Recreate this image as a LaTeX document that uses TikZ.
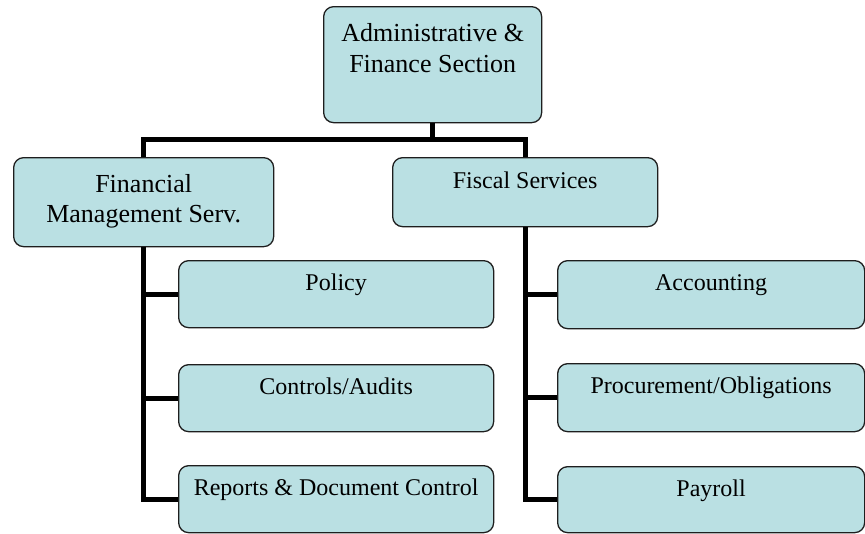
\documentclass[tikz,border=0pt]{standalone}
\usepackage{fontspec}
\setmainfont{Liberation Serif}
\definecolor{boxfill}{RGB}{186,224,227}
\definecolor{boxline}{RGB}{30,30,30}
\tikzset{
  orgbox/.style={draw=boxline, line width=1.3pt, fill=boxfill, rounded corners=10pt,
    inner sep=0pt, anchor=north west, rectangle},
  lblone/.style={font=\fontsize{24}{28}\selectfont, inner sep=0pt, anchor=base, yshift=-30pt},
  lbltwo/.style={font=\fontsize{26}{30.5}\selectfont, inner sep=0pt, align=center, anchor=north},
  conn/.style={line width=5pt, black}
}
\begin{document}
\begin{tikzpicture}[x=1pt,y=-1pt]
\useasboundingbox (0,0) rectangle (865,533);
\clip (0,0) rectangle (865,533);
% boxes
\node[orgbox, minimum width=218pt, minimum height=116pt,
  label={[lbltwo, yshift=-17.5pt]north:{Administrative \&\\Finance Section}}] (top) at (323,6) {};
\node[orgbox, minimum width=260pt, minimum height=89pt,
  label={[lbltwo, yshift=-17pt]north:{Financial\\Management Serv.}}] (fin) at (13,157) {};
\node[orgbox, minimum width=265pt, minimum height=69pt,
  label={[lblone, yshift=-1pt]north:Fiscal Services}] (fis) at (392,157) {};
\node[orgbox, minimum width=315pt, minimum height=67pt,
  label={[lblone]north:Policy}] (pol) at (178,260) {};
\node[orgbox, minimum width=315pt, minimum height=67pt,
  label={[lblone]north:Controls/Audits}] (con) at (178,364) {};
\node[orgbox, minimum width=315pt, minimum height=67pt,
  label={[lblone]north:Reports \& Document Control}] (rep) at (178,465) {};
\node[orgbox, minimum width=307pt, minimum height=68pt,
  label={[lblone]north:Accounting}] (acc) at (557,260) {};
\node[orgbox, minimum width=307pt, minimum height=68pt,
  label={[lblone]north:Procurement/Obligations}] (pro) at (557,363) {};
\node[orgbox, minimum width=307pt, minimum height=66pt,
  label={[lblone]north:Payroll}] (pay) at (557,466) {};
% connectors
\coordinate (bar) at (432,139);
\begin{scope}[on background layer/.try]
\end{scope}
\draw[conn] (top.south) -- (top.south |- bar);
\draw[conn] (fin.north) -- (fin.north |- bar) -- (fis.north |- bar) -- (fis.north);
\draw[conn] (fin.south) |- (rep.west);
\draw[conn] (fin.south |- pol.west) -- (pol.west);
\draw[conn] (fin.south |- con.west) -- (con.west);
\draw[conn] (fis.south) |- (pay.west);
\draw[conn] (fis.south |- acc.west) -- (acc.west);
\draw[conn] (fis.south |- pro.west) -- (pro.west);
\end{tikzpicture}
\end{document}
